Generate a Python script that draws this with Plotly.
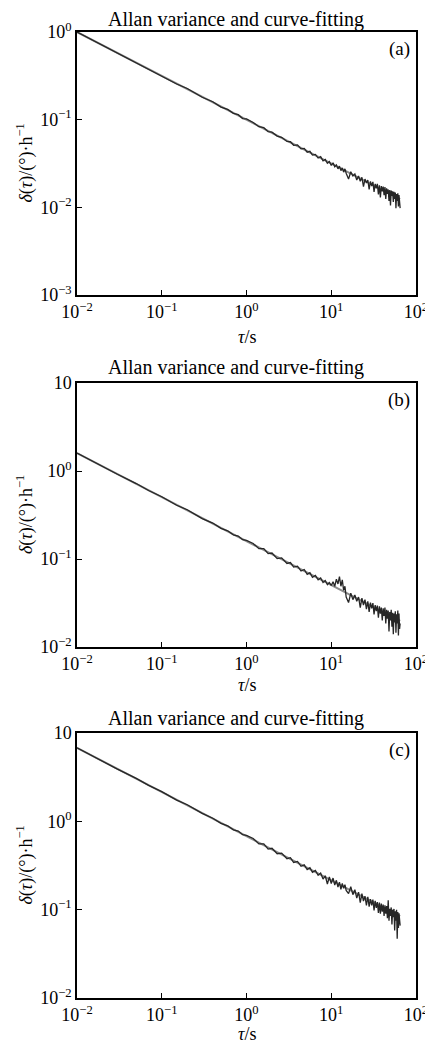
import plotly.graph_objects as go

# ---------------- data ----------------
TAU = [0.01, 0.015, 0.02, 0.03, 0.05, 0.07, 0.1, 0.15, 0.2, 0.3, 0.4, 0.5, 0.6, 0.7, 0.8, 0.9, 1.0,
       1.2, 1.4, 1.6, 1.8, 2.0, 2.3, 2.6, 3.0, 3.3, 3.6, 4.0, 4.4, 4.8, 5.2, 5.6, 6.0, 6.5, 7.0, 7.5,
       8.0, 8.5, 9.0, 9.5, 10,
       10.5, 11, 11.5, 12, 12.5, 13, 13.5, 14, 14.5, 15,
       16, 17, 18, 19, 20, 21, 22, 23, 24, 25, 26, 27, 28, 29, 30, 31, 32, 33, 34, 35, 36, 37, 38, 39, 40,
       41, 42, 43, 44, 45, 46, 47, 48, 49, 50, 51, 52, 53, 54, 55, 56, 57, 58, 59, 60, 61, 62, 63, 64, 65]

ALLAN_A = [1.0, 0.815, 0.710, 0.574, 0.450, 0.375, 0.318, 0.255, 0.227, 0.180, 0.160, 0.139, 0.131, 0.118, 0.114, 0.103, 0.102,
           0.0930, 0.0830, 0.0810, 0.0730, 0.0720, 0.0650, 0.0630, 0.0565, 0.0560, 0.0510, 0.0515, 0.0465, 0.0470, 0.0425,
           0.0435, 0.0395, 0.0402, 0.0365, 0.0378, 0.0340, 0.0352, 0.0318, 0.0333, 0.0300,
           0.0322, 0.0290, 0.0305, 0.0275, 0.0295, 0.0262, 0.0282, 0.0252, 0.0275, 0.0245,
           0.0210, 0.0255, 0.0228, 0.0240, 0.0205, 0.0228, 0.0198, 0.0220, 0.0172, 0.0210, 0.0190, 0.0205, 0.0160, 0.0198,
           0.0175, 0.0195, 0.0150, 0.0185, 0.0165, 0.0185, 0.0140, 0.0178, 0.0130, 0.0175, 0.0152, 0.0172, 0.0138, 0.0170,
           0.0125, 0.0165, 0.0142, 0.0160, 0.0118, 0.0158, 0.0105, 0.0155, 0.0135, 0.0152, 0.0115, 0.0150, 0.0125, 0.0148,
           0.0098, 0.0142, 0.0118, 0.0145, 0.0102, 0.0138, 0.0120, 0.0098]

ALLAN_B = [1.6, 1.30, 1.135, 0.918, 0.720, 0.600, 0.510, 0.408, 0.363, 0.288, 0.256, 0.223, 0.209, 0.188, 0.182, 0.166, 0.163,
           0.150, 0.131, 0.131, 0.115, 0.117, 0.101, 0.103, 0.089, 0.091, 0.081, 0.083, 0.073, 0.076, 0.067, 0.070,
           0.062, 0.065, 0.058, 0.061, 0.054, 0.057, 0.051, 0.054, 0.050,
           0.0550, 0.0490, 0.0590, 0.0520, 0.0630, 0.0490, 0.0580, 0.0440, 0.0490, 0.0370,
           0.0320, 0.0410, 0.0345, 0.0390, 0.0330, 0.0370, 0.0280, 0.0360, 0.0300, 0.0345, 0.0270, 0.0330, 0.0250, 0.0320,
           0.0275, 0.0315, 0.0235, 0.0300, 0.0255, 0.0295, 0.0215, 0.0290, 0.0240, 0.0280, 0.0200, 0.0275, 0.0225, 0.0280,
           0.0185, 0.0265, 0.0210, 0.0260, 0.0150, 0.0250, 0.0200, 0.0265, 0.0170, 0.0245, 0.0140, 0.0240, 0.0190, 0.0255,
           0.0145, 0.0235, 0.0185, 0.0260, 0.0135, 0.0240, 0.0160, 0.0185]

ALLAN_C = [6.8, 5.53, 4.84, 3.90, 3.06, 2.55, 2.17, 1.74, 1.54, 1.23, 1.085, 0.950, 0.890, 0.800, 0.775, 0.705, 0.695,
           0.640, 0.555, 0.555, 0.485, 0.495, 0.430, 0.437, 0.378, 0.388, 0.342, 0.352, 0.310, 0.322, 0.285, 0.298,
           0.265, 0.278, 0.245, 0.260, 0.222, 0.242, 0.195, 0.234, 0.198,
           0.228, 0.190, 0.215, 0.180, 0.205, 0.170, 0.198, 0.175, 0.192, 0.165,
           0.152, 0.182, 0.148, 0.168, 0.135, 0.158, 0.120, 0.152, 0.125, 0.142, 0.112, 0.140, 0.108, 0.132,
           0.112, 0.130, 0.098, 0.126, 0.105, 0.122, 0.092, 0.120, 0.090, 0.117, 0.095, 0.114, 0.085, 0.112,
           0.090, 0.110, 0.080, 0.128, 0.075, 0.102, 0.085, 0.106, 0.068, 0.100, 0.082, 0.102, 0.058, 0.096,
           0.075, 0.100, 0.047, 0.094, 0.062, 0.091, 0.070, 0.066]

FIT_TAU = [0.01, 65]
FIT_A = [1.0, 0.0124]
FIT_B = [1.6, 0.0198]
FIT_C = [6.8, 0.0845]

PANEL_LABELS = ["(a)", "(b)", "(c)"]
TITLE = "Allan variance and curve-fitting"
X_TICKVALS = [0.01, 0.1, 1, 10, 100]
X_TICKTEXT = ["10<sup>−2</sup>", "10<sup>−1</sup>", "10<sup>0</sup>", "10<sup>1</sup>", "10<sup>2</sup>"]
YA_TICKVALS = [0.001, 0.01, 0.1, 1]
YA_TICKTEXT = ["10<sup>−3</sup>", "10<sup>−2</sup>", "10<sup>−1</sup>", "10<sup>0</sup>"]
YBC_TICKVALS = [0.01, 0.1, 1, 10]
YBC_TICKTEXT = ["10<sup>−2</sup>", "10<sup>−1</sup>", "10<sup>0</sup>", "10"]

# ---------------- layout helpers ----------------
OFF = 8  # page body margin of the browser
W, H = 433 - OFF, 1044 - OFF
FONT = "Liberation Serif, Times New Roman, serif"
def fx(p):
    return (p - OFF) / W
def fy(p):
    return 1 - (p - OFF) / H

X_DOM = [fx(77), fx(416)]
panels = [
    dict(top=32, bot=295, tt_y=20, xt=337, yr=[-3, 0], tv=YA_TICKVALS, tt=YA_TICKTEXT, data=ALLAN_A, fit=FIT_A),
    dict(top=383, bot=647, tt_y=367, xt=685, yr=[-2, 1], tv=YBC_TICKVALS, tt=YBC_TICKTEXT, data=ALLAN_B, fit=FIT_B),
    dict(top=733, bot=998, tt_y=718, xt=1034, yr=[-2, 1], tv=YBC_TICKVALS, tt=YBC_TICKTEXT, data=ALLAN_C, fit=FIT_C),
]

fig = go.Figure()
annotations = []
layout = dict(
    width=W, height=H, margin=dict(l=0, r=0, t=0, b=0, autoexpand=False),
    paper_bgcolor="white", plot_bgcolor="white", showlegend=False,
    font=dict(family=FONT, color="black", size=18),
)

for i, p in enumerate(panels):
    n = "" if i == 0 else str(i + 1)
    xa, ya = "x" + n, "y" + n
    fig.add_trace(go.Scatter(x=FIT_TAU, y=p["fit"], mode="lines", xaxis=xa, yaxis=ya,
                             line=dict(color="#8c8c8c", width=2.0)))
    fig.add_trace(go.Scatter(x=TAU, y=p["data"], mode="lines", xaxis=xa, yaxis=ya,
                             line=dict(color="#262626", width=1.3)))
    axis_common = dict(showline=True, linecolor="black", linewidth=1.5, mirror=True,
                       showgrid=False, zeroline=False, ticks="inside", ticklen=5,
                       tickwidth=1.2, tickcolor="black", automargin=False,
                       tickfont=dict(family=FONT, size=18, color="black"))
    layout["xaxis" + n] = dict(type="log", range=[-2, 2], domain=X_DOM, anchor=ya,
                               tickmode="array", tickvals=X_TICKVALS, ticktext=X_TICKTEXT,
                               **axis_common)
    layout["yaxis" + n] = dict(type="log", range=p["yr"], domain=[fy(p["bot"]), fy(p["top"])],
                               anchor=xa, tickmode="array", tickvals=p["tv"], ticktext=p["tt"],
                               **axis_common)
    # title
    annotations.append(dict(text=TITLE, x=fx(236), y=fy(p["tt_y"]), xref="paper", yref="paper",
                            showarrow=False, font=dict(family=FONT, size=20), xanchor="center", yanchor="middle"))
    # panel label
    annotations.append(dict(text=PANEL_LABELS[i], x=fx(399), y=fy(p["top"] + 17), xref="paper", yref="paper",
                            showarrow=False, font=dict(family=FONT, size=19), xanchor="center", yanchor="middle"))
    # x title
    annotations.append(dict(text="<i>τ</i>/s", x=fx(247), y=fy(p["xt"]), xref="paper", yref="paper",
                            showarrow=False, font=dict(family=FONT, size=18), xanchor="center", yanchor="middle"))
    # y title
    annotations.append(dict(text="<i>δ</i>(<i>τ</i>)/(°)·h<sup>−1</sup>", x=fx(25), y=fy((p["top"] + p["bot"]) / 2),
                            xref="paper", yref="paper", textangle=-90, showarrow=False,
                            font=dict(family=FONT, size=18), xanchor="center", yanchor="middle"))

layout["annotations"] = annotations
fig.update_layout(**layout)
fig.write_html("out.html")
